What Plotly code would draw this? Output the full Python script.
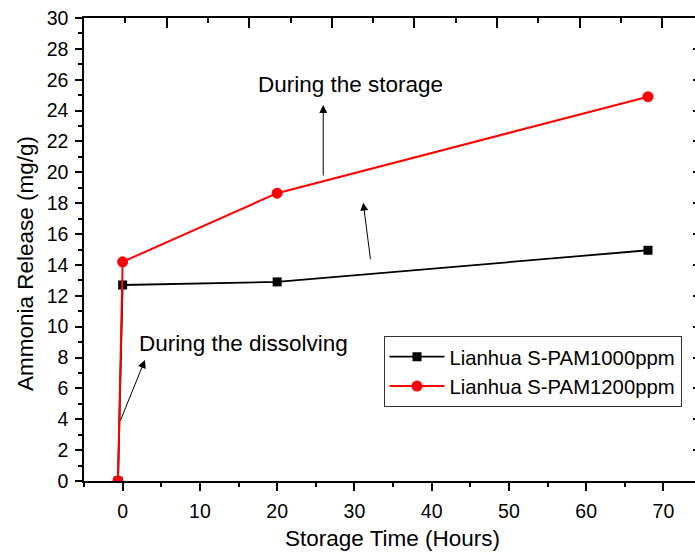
import plotly.graph_objects as go

# ---- data ----
time_1000 = [-0.6, 0, 20, 68]
release_1000 = [0, 12.7, 12.9, 14.95]
time_1200 = [-0.6, 0, 20, 68]
release_1200 = [0, 14.2, 18.65, 24.9]
name_1000 = "Lianhua S-PAM1000ppm"
name_1200 = "Lianhua S-PAM1200ppm"
x_title = "Storage Time (Hours)"
y_title = "Ammonia Release (mg/g)"
note_storage = "During the storage"
note_dissolving = "During the dissolving"

FONT = "Liberation Sans, Arial, sans-serif"
W, H = 695, 553
L, R, T, B = 84, 0, 18, 72
PW = W - L - R

fig = go.Figure()
fig.add_trace(go.Scatter(x=time_1000, y=release_1000, mode="lines+markers", name=name_1000,
                         line=dict(color="black", width=1.8),
                         marker=dict(symbol="square", size=9, color="black")))
fig.add_trace(go.Scatter(x=time_1200, y=release_1200, mode="lines+markers", name=name_1200,
                         line=dict(color="#ff0000", width=2),
                         marker=dict(symbol="circle", size=11, color="#ff0000")))
# helper traces so the decorative top / right axes are drawn
fig.add_trace(go.Scatter(x=[None], y=[None], xaxis="x2", yaxis="y", showlegend=False, hoverinfo="skip"))
fig.add_trace(go.Scatter(x=[None], y=[None], xaxis="x", yaxis="y2", showlegend=False, hoverinfo="skip"))

axis_font = dict(family=FONT, size=19.5, color="black")

fig.update_layout(
    width=W, height=H,
    margin=dict(l=L, r=R, t=T, b=B, pad=0),
    paper_bgcolor="white", plot_bgcolor="white",
    font=dict(family=FONT, color="black"),
    showlegend=True,
    legend=dict(x=(383.5 - L) / PW, y=(481 - 336) / 463, xanchor="left", yanchor="top",
                bordercolor="#333333", borderwidth=1, bgcolor="white",
                font=dict(family=FONT, size=20.3, color="black"),
                itemwidth=55, tracegroupgap=0),
    xaxis=dict(range=[-5, -5 + PW / 7.726], tick0=0, dtick=10, ticks="outside", ticklen=8, tickwidth=1.5,
               tickcolor="black", showline=True, linecolor="black", linewidth=1.5,
               showgrid=False, zeroline=False, tickfont=axis_font, ticklabelstandoff=4,
               automargin=False,
               minor=dict(dtick=5, ticks="outside", ticklen=4, tickwidth=1.5, tickcolor="black")),
    xaxis2=dict(overlaying="x", side="top", range=[0, PW], tick0=0, dtick=82.6, ticks="inside",
                ticklen=10, tickwidth=1.5, tickcolor="black", showline=True, linecolor="black",
                linewidth=1.5, showgrid=False, zeroline=False, showticklabels=False, automargin=False,
                minor=dict(dtick=41.3, ticks="inside", ticklen=5, tickwidth=1.5, tickcolor="black")),
    yaxis=dict(range=[0, 30], dtick=2, ticks="outside", ticklen=7, tickwidth=1.5, tickcolor="black",
               showline=True, linecolor="black", linewidth=1.5, showgrid=False, zeroline=False,
               tickfont=axis_font, ticklabelstandoff=3, automargin=False,
               minor=dict(dtick=1, ticks="outside", ticklen=4, tickwidth=1.5, tickcolor="black")),
    yaxis2=dict(overlaying="y", side="right", range=[0, 30], dtick=2, ticks="inside", ticklen=2,
                tickwidth=1.5, tickcolor="black", showline=False, showgrid=False, zeroline=False,
                showticklabels=False, automargin=False),
)

def px_to_x(px):
    return (px - 122.7) / 7.726

def py_to_y(py):
    return (481 - py) / 15.43

ann_font = dict(family=FONT, size=22.5, color="black")
# axis titles
fig.add_annotation(text=x_title, xref="paper", yref="paper", x=(392 - L) / PW, y=(481 - 538) / 463,
                   xanchor="center", yanchor="middle", showarrow=False, font=ann_font)
fig.add_annotation(text=y_title, xref="paper", yref="paper", x=(25 - L) / PW, y=(481 - 264) / 463,
                   xanchor="center", yanchor="middle", textangle=-90, showarrow=False, font=ann_font)
# notes
fig.add_annotation(text=note_storage, x=px_to_x(256), y=py_to_y(85), xanchor="left", yanchor="middle",
                   showarrow=False, font=ann_font)
fig.add_annotation(text=note_dissolving, x=px_to_x(137), y=py_to_y(344), xanchor="left", yanchor="middle",
                   showarrow=False, font=ann_font)
# arrows (head at x,y; tail at ax,ay)
arrows = [((323.3, 105), (323.3, 177)),
          ((363.3, 202.7), (370.7, 260.7)),
          ((145, 360), (120, 421.7))]
for (hx, hy), (tx, ty) in arrows:
    fig.add_annotation(text="", x=px_to_x(hx), y=py_to_y(hy), ax=px_to_x(tx), ay=py_to_y(ty),
                       axref="x", ayref="y", showarrow=True, arrowhead=2, arrowsize=1.6,
                       arrowwidth=1, arrowcolor="black")

fig.write_html("out.html", config={"displayModeBar": False},
               post_script="document.body.style.margin='0px';")
